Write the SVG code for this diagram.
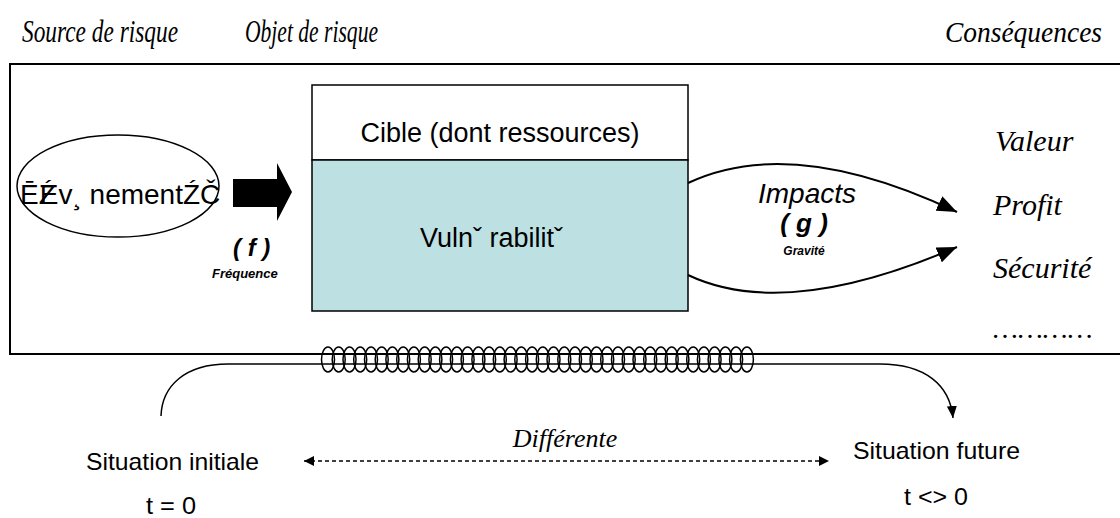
<svg xmlns="http://www.w3.org/2000/svg" xmlns:xlink="http://www.w3.org/1999/xlink" width="1120" height="518" viewBox="0 0 1120 518">
<style>
.serif{font-family:"Liberation Serif","Times New Roman",serif;font-style:italic;fill:#000}
.sans{font-family:"Liberation Sans",Arial,sans-serif;fill:#000}
.bi{font-family:"Liberation Sans",Arial,sans-serif;font-weight:bold;font-style:italic;fill:#000}
.line{fill:none;stroke:#000}
</style>
<defs>
<marker id="headBig" markerUnits="userSpaceOnUse" markerWidth="22" markerHeight="16" refX="20" refY="8" orient="auto">
<path d="M0,0 L20,8 L0,16 Z" fill="#000"/>
</marker>
<marker id="headSmall" markerUnits="userSpaceOnUse" markerWidth="14" markerHeight="10" refX="12" refY="5" orient="auto">
<path d="M0,0 L12,5 L0,10 Z" fill="#000"/>
</marker>
<marker id="headDash" markerUnits="userSpaceOnUse" markerWidth="12" markerHeight="10" refX="10" refY="5" orient="auto-start-reverse">
<path d="M0,0 L10,5 L0,10 Z" fill="#000"/>
</marker>
<ellipse id="loop" cx="0" cy="359.5" rx="6.5" ry="12.5" fill="none" stroke="#000" stroke-width="1.5"/>
</defs>

<g id="headers">
<text class="serif" x="22" y="42" font-size="31" textLength="156" lengthAdjust="spacingAndGlyphs">Source de risque</text>
<text class="serif" x="245" y="42" font-size="31" textLength="133" lengthAdjust="spacingAndGlyphs">Objet de risque</text>
<text class="serif" x="945" y="42" font-size="29" textLength="157" lengthAdjust="spacingAndGlyphs">Conséquences</text>
</g>

<g id="frame">
<path class="line" stroke-width="2" d="M1120,64 H10 V354 H1120"/>
</g>

<g id="event">
<ellipse cx="118" cy="186" rx="101" ry="51" fill="none" stroke="#000" stroke-width="1.5"/>
<text class="sans" x="20 38.7 39.8" y="204" font-size="28">ĒŹEv¸ nementŹČ</text>
</g>

<g id="block-arrow">
<path d="M233,179 H277 V163 L292,192 L277,221 V207 H233 Z" fill="#000"/>
<text class="bi" x="233" y="256" font-size="24">( f )</text>
<text class="bi" x="212" y="278" font-size="13">Fréquence</text>
</g>

<g id="target">
<rect x="312" y="85" width="376" height="75" fill="#fff" stroke="#000" stroke-width="1.5"/>
<text class="sans" x="500" y="142" font-size="27" text-anchor="middle">Cible (dont ressources)</text>
</g>

<g id="vulnerability">
<rect x="312" y="160" width="376" height="151" fill="#bde0e3" stroke="#000" stroke-width="1.5"/>
<text class="sans" x="420" y="247" font-size="27">Vulnˇ rabilitˇ</text>
</g>

<g id="connectors">
<path class="line" stroke-width="2" d="M688,183 C745,156 830,152 957,212" marker-end="url(#headBig)"/>
<path class="line" stroke-width="2" d="M688,275 C745,302 830,302 957,247" marker-end="url(#headBig)"/>
<path class="line" stroke-width="1.5" d="M161,416 C162,386 185,364 228,364 H880 C925,364 950,385 953,418" marker-end="url(#headSmall)"/>
<path class="line" stroke-width="1.5" stroke-dasharray="4 3" d="M304,461 H829" marker-start="url(#headDash)" marker-end="url(#headDash)"/>
</g>

<g id="impacts-label">
<text class="sans" x="807" y="203" font-size="28" font-style="italic" text-anchor="middle">Impacts</text>
<text class="bi" x="804" y="232" font-size="26" text-anchor="middle">( g )</text>
<text class="bi" x="804" y="255" font-size="12" text-anchor="middle">Gravité</text>
</g>

<g id="consequences">
<text class="serif" x="995" y="151" font-size="30">Valeur</text>
<text class="serif" x="993" y="215" font-size="30">Profit</text>
<text class="serif" x="993" y="278" font-size="30">Sécurité</text>
<text class="serif" x="993" y="338" font-size="28">…………</text>
</g>

<g id="spring">
<use xlink:href="#loop" x="328.0"/><use xlink:href="#loop" x="338.7"/><use xlink:href="#loop" x="349.5"/><use xlink:href="#loop" x="360.2"/><use xlink:href="#loop" x="371.0"/><use xlink:href="#loop" x="381.7"/><use xlink:href="#loop" x="392.4"/><use xlink:href="#loop" x="403.2"/><use xlink:href="#loop" x="413.9"/><use xlink:href="#loop" x="424.7"/>
<use xlink:href="#loop" x="435.4"/><use xlink:href="#loop" x="446.1"/><use xlink:href="#loop" x="456.9"/><use xlink:href="#loop" x="467.6"/><use xlink:href="#loop" x="478.4"/><use xlink:href="#loop" x="489.1"/><use xlink:href="#loop" x="499.8"/><use xlink:href="#loop" x="510.6"/><use xlink:href="#loop" x="521.3"/><use xlink:href="#loop" x="532.1"/>
<use xlink:href="#loop" x="542.8"/><use xlink:href="#loop" x="553.5"/><use xlink:href="#loop" x="564.3"/><use xlink:href="#loop" x="575.0"/><use xlink:href="#loop" x="585.8"/><use xlink:href="#loop" x="596.5"/><use xlink:href="#loop" x="607.2"/><use xlink:href="#loop" x="618.0"/><use xlink:href="#loop" x="628.7"/><use xlink:href="#loop" x="639.5"/>
<use xlink:href="#loop" x="650.2"/><use xlink:href="#loop" x="660.9"/><use xlink:href="#loop" x="671.7"/><use xlink:href="#loop" x="682.4"/><use xlink:href="#loop" x="693.2"/><use xlink:href="#loop" x="703.9"/><use xlink:href="#loop" x="714.6"/><use xlink:href="#loop" x="725.4"/><use xlink:href="#loop" x="736.1"/><use xlink:href="#loop" x="746.9"/>
</g>

<g id="situations">
<text class="serif" x="565" y="447" font-size="26" text-anchor="middle">Différente</text>
<text class="sans" x="86" y="470" font-size="24" textLength="173" lengthAdjust="spacingAndGlyphs">Situation initiale</text>
<text class="sans" x="853" y="459" font-size="24" textLength="167" lengthAdjust="spacingAndGlyphs">Situation future</text>
<text class="sans" x="146" y="514" font-size="24" textLength="50" lengthAdjust="spacingAndGlyphs">t = 0</text>
<text class="sans" x="904" y="505" font-size="24" textLength="64" lengthAdjust="spacingAndGlyphs">t &lt;&gt; 0</text>
</g>
</svg>
